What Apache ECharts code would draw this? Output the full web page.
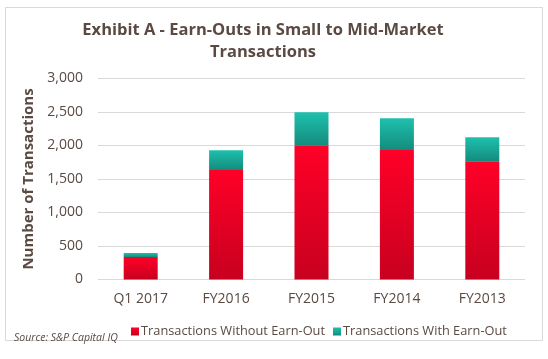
<!DOCTYPE html>
<html><head><meta charset="utf-8">
<script src="https://cdn.jsdelivr.net/npm/echarts@6/dist/echarts.min.js"></script>
<style>html,body{margin:0;padding:0;background:#fff}#c{width:548px;height:359px}</style>
</head><body><div id="c"></div>
<script>
const categories = ['Q1 2017','FY2016','FY2015','FY2014','FY2013'];
const withoutEarnOut = [335, 1636, 2005, 1934, 1766];
const withEarnOut = [60, 294, 490, 473, 358];
const yTicks = [0, 500, 1000, 1500, 2000, 2500, 3000];
const FONT = '"Open Sans", "DejaVu Sans", sans-serif';
const TXT = '#5a4a42';
const chart = echarts.init(document.getElementById('c'));
chart.setOption({
  animation: false,
  graphic: [
    {type:'rect', shape:{x:5.5,y:7.5,width:537,height:333}, style:{fill:'none', stroke:'#d9d9d9', lineWidth:1}, z:-1},
    {type:'text', left:14, top:333, style:{text:'Source: S&P Capital IQ', font:'italic 10.5px '+FONT, fill:TXT}}
  ],
  title: {
    text: 'Exhibit A - Earn-Outs in Small to Mid-Market\nTransactions',
    left: 258, top: 14, textAlign: 'center',
    textStyle: {fontFamily: FONT, fontSize: 16.5, fontWeight: 'bold', color: TXT, lineHeight: 22}
  },
  legend: {
    left: 126, top: 320, itemWidth: 8, itemHeight: 8, itemGap: 8,
    icon: 'rect',
    textStyle: {fontFamily: FONT, fontSize: 12.8, color: TXT, padding:[0,0,0,-3]},
    data: ['Transactions Without Earn-Out','Transactions With Earn-Out']
  },
  grid: {left: 98, right: 23, top: 78.5, bottom: 79.5},
  xAxis: {
    type: 'category', data: categories,
    axisLine: {show: false}, axisTick: {show: false},
    axisLabel: {fontFamily: FONT, fontSize: 14, color: TXT, margin: 13}
  },
  yAxis: {
    type: 'value', min: yTicks[0], max: yTicks[yTicks.length-1], interval: 500,
    name: 'Number of Transactions', nameLocation: 'middle', nameGap: 57,
    nameTextStyle: {fontFamily: FONT, fontSize: 15, fontWeight: 'bold', color: TXT},
    axisLabel: {fontFamily: FONT, fontSize: 14, color: TXT, margin: 15,
      formatter: v => v.toLocaleString('en-US')},
    splitLine: {lineStyle: {color: '#d9d9d9'}}
  },
  series: [
    {name: 'Transactions Without Earn-Out', type: 'bar', stack: 't', barWidth: 34, data: withoutEarnOut,
     itemStyle: {color: new echarts.graphic.LinearGradient(0,0,0,1,[{offset:0,color:'#ff0028'},{offset:1,color:'#c8001f'}])}},
    {name: 'Transactions With Earn-Out', type: 'bar', stack: 't', barWidth: 34, data: withEarnOut,
     itemStyle: {color: new echarts.graphic.LinearGradient(0,0,0,1,[{offset:0,color:'#1fc0ae'},{offset:1,color:'#138c7d'}])}}
  ]
});
</script></body></html>
